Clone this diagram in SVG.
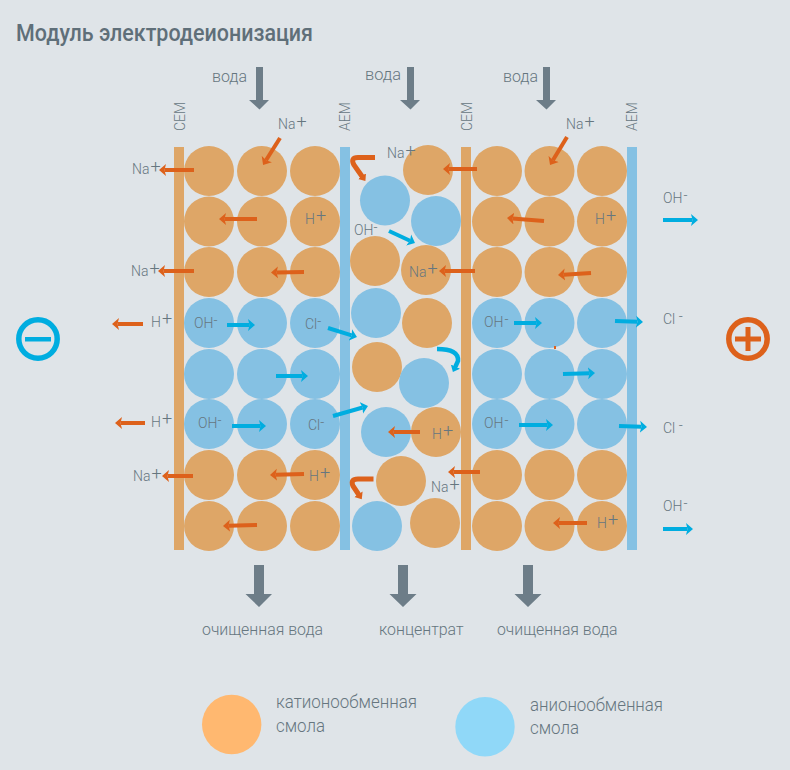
<svg xmlns="http://www.w3.org/2000/svg" width="790" height="770" viewBox="0 0 790 770">
<defs>
<marker id="ho" markerUnits="userSpaceOnUse" markerWidth="8" markerHeight="13" refX="1.5" refY="6.5" orient="auto" viewBox="0 0 8 13"><path d="M0,0.5 L7,6.5 L0,12.5 L1.5,6.5Z" fill="#dd611b"/></marker>
<marker id="hb" markerUnits="userSpaceOnUse" markerWidth="8" markerHeight="13" refX="1.5" refY="6.5" orient="auto" viewBox="0 0 8 13"><path d="M0,0.5 L7,6.5 L0,12.5 L1.5,6.5Z" fill="#00ade0"/></marker>
<marker id="hso" markerUnits="userSpaceOnUse" markerWidth="7" markerHeight="11" refX="1" refY="5.5" orient="auto" viewBox="0 0 7 11"><path d="M0,0.5 L6,5.5 L0,10.5Z" fill="#dd611b"/></marker>
<marker id="hsb" markerUnits="userSpaceOnUse" markerWidth="7" markerHeight="11" refX="1" refY="5.5" orient="auto" viewBox="0 0 7 11"><path d="M0,0.5 L6,5.5 L0,10.5Z" fill="#00ade0"/></marker>
<circle id="co" r="25" fill="#dea667"/>
<circle id="cb" r="25" fill="#85c1e3"/>
</defs>
<style>
text{font-family:Roboto,"Liberation Sans",sans-serif;font-weight:300;fill:#66767f;font-size:14px}
.t{font-size:24px;font-weight:500;fill:#5f6f79}
.l{font-size:17px}
.a{fill:none;stroke-width:4}
.o{stroke:#dd611b;marker-end:url(#ho)}
.b{stroke:#00ade0;marker-end:url(#hb)}
.ho{fill:none;stroke-width:5;stroke:#dd611b;marker-end:url(#hso)}
.hb{fill:none;stroke-width:4.5;stroke:#00ade0;marker-end:url(#hsb)}
.g{fill:#6d7d88}
.p{font-size:18px}
</style>
<rect width="790" height="770" fill="#dfe4e8"/>
<text class="t" x="16" y="41" textLength="297" lengthAdjust="spacingAndGlyphs">Модуль электродеионизация</text>
<g id="membranes">
<rect x="174" y="147" width="10" height="403" fill="#dea667"/>
<rect x="340" y="147" width="10" height="403" fill="#85c1e3"/>
<rect x="461" y="147" width="10" height="403" fill="#dea667"/>
<rect x="627" y="147" width="10" height="403" fill="#85c1e3"/>
<text transform="translate(185,131) rotate(-90)">CEM</text>
<text transform="translate(350,131) rotate(-90)">AEM</text>
<text transform="translate(472,131) rotate(-90)">CEM</text>
<text transform="translate(637,131) rotate(-90)">AEM</text>
</g>
<g id="resin-left">
<use href="#co" x="209" y="171"/><use href="#co" x="262" y="171"/><use href="#co" x="315" y="171"/>
<use href="#co" x="209" y="221.500"/><use href="#co" x="262" y="221.500"/><use href="#co" x="315" y="221.500"/>
<use href="#co" x="209" y="272"/><use href="#co" x="262" y="272"/><use href="#co" x="315" y="272"/>
<use href="#cb" x="209" y="323"/><use href="#cb" x="262" y="323"/><use href="#cb" x="315" y="323"/>
<use href="#cb" x="209" y="374"/><use href="#cb" x="262" y="374"/><use href="#cb" x="315" y="374"/>
<use href="#cb" x="209" y="424"/><use href="#cb" x="262" y="424"/><use href="#cb" x="315" y="424"/>
<use href="#co" x="209" y="475"/><use href="#co" x="262" y="475"/><use href="#co" x="315" y="475"/>
<use href="#co" x="209" y="526"/><use href="#co" x="262" y="526"/><use href="#co" x="315" y="526"/>
</g>
<g id="resin-middle">
<use href="#co" x="428" y="170"/><use href="#cb" x="385" y="200.500"/><use href="#cb" x="436" y="221"/>
<use href="#co" x="375" y="261"/><use href="#co" x="426" y="270"/><use href="#cb" x="376" y="313"/>
<use href="#co" x="427" y="323"/><use href="#co" x="377" y="367"/><use href="#cb" x="424" y="383"/>
<use href="#cb" x="386" y="432"/><use href="#co" x="436" y="432"/><use href="#co" x="401" y="481"/>
<use href="#cb" x="377" y="526"/><use href="#co" x="435" y="523"/>
</g>
<g id="resin-right">
<use href="#co" x="497" y="171"/><use href="#co" x="549.500" y="171"/><use href="#co" x="602" y="171"/>
<use href="#co" x="497" y="221.500"/><use href="#co" x="549.500" y="221.500"/><use href="#co" x="602" y="221.500"/>
<use href="#co" x="497" y="272"/><use href="#co" x="549.500" y="272"/><use href="#co" x="602" y="272"/>
<use href="#cb" x="497" y="323"/><use href="#cb" x="549.500" y="323"/><use href="#cb" x="602" y="323"/>
<use href="#cb" x="497" y="374"/><use href="#cb" x="549.500" y="374"/><use href="#cb" x="602" y="374"/>
<use href="#cb" x="497" y="424"/><use href="#cb" x="549.500" y="424"/><use href="#cb" x="602" y="424"/>
<use href="#co" x="497" y="475"/><use href="#co" x="549.500" y="475"/><use href="#co" x="602" y="475"/>
<use href="#co" x="497" y="526"/><use href="#co" x="549.500" y="526"/><use href="#co" x="602" y="526"/>
</g>
<g id="connectors">
<path class="a o" d="M280,138L266,160.300"/>
<path class="a o" d="M194,170H164.500"/>
<path class="a o" d="M257,219H224.500"/>
<path class="a o" d="M194,271H163.500"/>
<path class="a o" d="M304,272L276.500,272.400"/>
<path class="a o" d="M143,324H117.500"/>
<path class="a b" d="M227,325H249.500"/>
<path class="a b" d="M328,328L351.700,335.400"/>
<path class="a b" d="M276,376H302.500"/>
<path class="a o" d="M145,423H120.500"/>
<path class="a b" d="M232,426H260.500"/>
<path class="a b" d="M333,416L362.700,407.500"/>
<path class="a o" d="M193,476H167.500"/>
<path class="a o" d="M304,474L275.500,474.800"/>
<path class="a o" d="M257,525L228.500,525.800"/>
<path class="a o" d="M477,169H448.500"/>
<path class="a b" d="M389,231L410,240.700"/>
<path class="a o" d="M475,271H444.500"/>
<path class="a o" d="M420,432H393.500"/>
<path class="a o" d="M480,472H453.500"/>
<path class="ho" d="M375,157.500H358Q350,157.500 354,165L362.500,177"/>
<path class="ho" d="M373.500,479H358Q350,479 353,486L359,495"/>
<path class="hb" d="M437,349Q459,349 458,361L455,367.500"/>
<path class="a o" d="M567,137L552.900,160.300"/>
<path class="a o" d="M544,221L512.500,218.400"/>
<path class="a o" d="M591,273L563.500,274.700"/>
<path class="a b" d="M663,220H692.500"/>
<path class="a b" d="M514,323H536.500"/>
<path class="a b" d="M615,321L637.500,321.800"/>
<path class="a b" d="M563,374L589.500,373.200"/>
<path class="a b" d="M519,425H547.500"/>
<path class="a b" d="M619,426L641.500,426.800"/>
<path class="a o" d="M587,523H558.500"/>
<path class="a b" d="M663,529H687.500"/>
<path class="g" d="M256,67h7v33h6l-9.500,9.500L249,100h7Z"/>
<path class="g" d="M407,67h7v33h6l-9.500,9.500L400,100h7Z"/>
<path class="g" d="M543,67h7v33h6l-9.500,9.500L536,100h7Z"/>
<path class="g" d="M254,565h10v29h8l-13,13l-13.500-13h8.500Z"/>
<path class="g" d="M398,565h10v29h8.500l-13.500,13l-13.500-13h8.500Z"/>
<path class="g" d="M523,565h10v29h8.500l-13.500,13l-13.500-13h8.500Z"/>
<rect x="554" y="346" width="2" height="3" fill="#dd611b"/>
</g>
<g id="labels">
<text class="l" x="212" y="82" textLength="35" lengthAdjust="spacingAndGlyphs">вода</text>
<text class="l" x="365" y="80" textLength="36" lengthAdjust="spacingAndGlyphs">вода</text>
<text class="l" x="503" y="82" textLength="35" lengthAdjust="spacingAndGlyphs">вода</text>
<text x="278" y="129">Na<tspan class="p" dx="1" dy="-1">+</tspan></text>
<text x="132" y="174">Na<tspan class="p" dx="1" dy="-1">+</tspan></text>
<text x="305" y="224">H<tspan class="p" dx="1" dy="-2">+</tspan></text>
<text x="131" y="276">Na<tspan class="p" dx="1" dy="-1">+</tspan></text>
<text x="151" y="327">H<tspan class="p" dx="1" dy="-2">+</tspan></text>
<text x="194" y="328">OH<tspan dy="-3">-</tspan></text>
<text x="305" y="329">Cl<tspan dy="-3">-</tspan></text>
<text x="151" y="427">H<tspan class="p" dx="1" dy="-2">+</tspan></text>
<text x="198" y="428">OH<tspan dy="-3">-</tspan></text>
<text x="308" y="430">Cl<tspan dy="-3">-</tspan></text>
<text x="133" y="481">Na<tspan class="p" dx="1" dy="-1">+</tspan></text>
<text x="309" y="481">H<tspan class="p" dx="1" dy="-2">+</tspan></text>
<text x="387" y="158">Na<tspan class="p" dx="1" dy="-1">+</tspan></text>
<text x="354" y="235">OH<tspan dy="-3">-</tspan></text>
<text x="409" y="277">Na<tspan class="p" dx="1" dy="-2">+</tspan></text>
<text x="432" y="439">H<tspan class="p" dx="1" dy="-2">+</tspan></text>
<text x="431" y="492">Na<tspan class="p" dx="1" dy="-1">+</tspan></text>
<text x="566" y="129">Na<tspan class="p" dx="1" dy="-1">+</tspan></text>
<text x="595" y="224">H<tspan class="p" dx="1" dy="-2">+</tspan></text>
<text x="663" y="203">OH<tspan dx="1" dy="-3">-</tspan></text>
<text x="484" y="327">OH<tspan dx="1" dy="-3">-</tspan></text>
<text x="663" y="324">Cl <tspan dy="-3">-</tspan></text>
<text x="484" y="428">OH<tspan dx="1" dy="-3">-</tspan></text>
<text x="663" y="433">Cl <tspan dy="-3">-</tspan></text>
<text x="597" y="528">H<tspan class="p" dx="1" dy="-2">+</tspan></text>
<text x="663" y="511">OH<tspan dx="1" dy="-3">-</tspan></text>
<text class="l" x="202" y="635" textLength="121" lengthAdjust="spacingAndGlyphs">очищенная вода</text>
<text class="l" x="379" y="635" textLength="84.500" lengthAdjust="spacingAndGlyphs">концентрат</text>
<text class="l" x="497" y="635" textLength="120.500" lengthAdjust="spacingAndGlyphs">очищенная вода</text>
</g>
<g id="electrode-minus"><circle cx="38" cy="339" r="19.200" fill="none" stroke="#00ade0" stroke-width="5.500"/><rect x="25" y="337" width="26" height="4.500" fill="#00ade0"/></g>
<g id="electrode-plus"><circle cx="748" cy="339" r="19.200" fill="none" stroke="#dd611b" stroke-width="5.500"/><path d="M735,336.500h10.500V327h5v9.500H761v5H750.500V351h-5V341.500H735Z" fill="#dd611b"/></g>
<g id="legend-cation"><circle cx="231.700" cy="724.500" r="29.700" fill="#ffb870"/><text class="l" x="276" y="708" textLength="141" lengthAdjust="spacingAndGlyphs" style="font-size:18px">катионообменная</text><text class="l" x="276" y="732" textLength="49" lengthAdjust="spacingAndGlyphs" style="font-size:18px">смола</text></g>
<g id="legend-anion"><circle cx="485" cy="726.700" r="29.700" fill="#90d8f8"/><text class="l" x="530" y="710.500" textLength="133" lengthAdjust="spacingAndGlyphs" style="font-size:18px">анионообменная</text><text class="l" x="530" y="734" textLength="49" lengthAdjust="spacingAndGlyphs" style="font-size:18px">смола</text></g>
</svg>
